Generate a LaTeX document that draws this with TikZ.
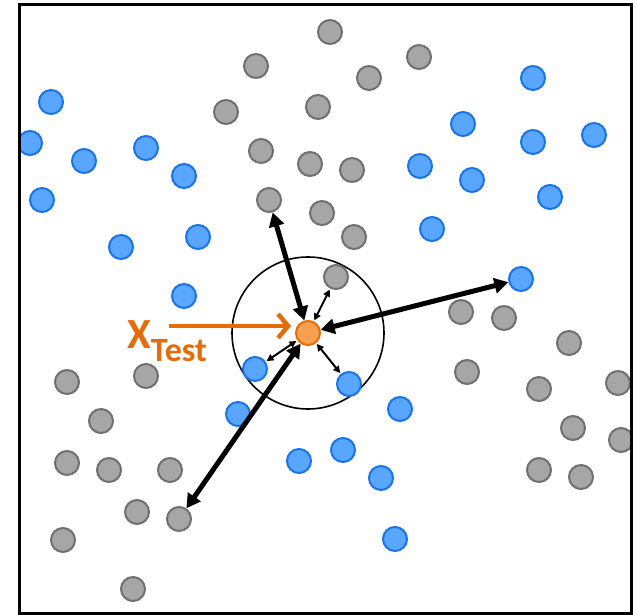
\documentclass[tikz,border=0pt]{standalone}
\usepackage{fontspec}
\newfontfamily\labelfont{Carlito}
\usetikzlibrary{arrows.meta,positioning}

\definecolor{ptblue}{RGB}{88,166,255}
\definecolor{ptblueline}{RGB}{26,115,232}
\definecolor{ptgray}{RGB}{166,166,166}
\definecolor{ptgrayline}{RGB}{112,112,112}
\definecolor{ptorange}{RGB}{247,160,80}
\definecolor{xorange}{RGB}{228,108,10}

\begin{document}
\begin{tikzpicture}[x=1pt, y=-1pt,
  pt/.style={circle, draw, line width=2pt, minimum size=24pt, inner sep=0pt},
  bluept/.style={pt, fill=ptblue, draw=ptblueline},
  graypt/.style={pt, fill=ptgray, draw=ptgrayline},
  testpt/.style={pt, fill=ptorange, draw=xorange},
  far/.style={line width=5pt, >={Triangle[length=14pt,width=15pt]}},
  near/.style={line width=2pt, >={Triangle[length=7pt,width=7pt]}, shorten >=1pt, shorten <=1pt},
  xarrow/.style={draw=xorange, line width=4.5pt, -{Straight Barb[length=10pt,width=24pt]}, shorten >=4pt}]
\useasboundingbox (0,0) rectangle (637,615);

% neighbourhood of the test point
\coordinate (c) at (308,333);
\node[circle, draw, line width=1.6pt, minimum size=152pt, inner sep=0pt] (nbhd) at (c) {};

\begin{scope}
\clip (19,5) rectangle (631,613);
% class A
\foreach \x/\y [count=\i] in {51/102, 30/143, 84/161, 146/148, 184/176, 42/200, 121/247, 198/237,
  184/296, 533/78, 463/124, 533/142, 594/135, 420/166, 472/180, 550/197, 432/229, 238/414,
  299/461, 400/409, 343/450, 381/478, 395/539}
  \node[bluept] (b\i) at (\x,\y) {};
% class B
\foreach \x/\y [count=\i] in {330/32, 419/57, 256/66, 369/78, 226/112, 318/107, 261/151, 310/164,
  352/170, 322/213, 354/237, 461/312, 504/318, 569/343, 467/372, 539/389, 618/383, 573/428,
  621/440, 539/470, 581/477, 67/382, 146/376, 101/421, 67/463, 109/470, 170/470, 137/512,
  63/540, 133/589}
  \node[graypt] (g\i) at (\x,\y) {};
\end{scope}

% points with measured distances
\node[graypt] (gnear) at (336,277) {};
\node[bluept] (bnear1) at (255,369) {};
\node[bluept] (bnear2) at (349,384) {};
\node[graypt] (gfar1) at (269,200) {};
\node[bluept] (bfar) at (521,279) {};
\node[graypt] (gfar2) at (179,519) {};
\node[testpt] (test) at (c) {};

\foreach \n in {gnear, bnear1, bnear2}
  \draw[near, <->] (test) -- (\n);
\foreach \n in {gfar1, bfar, gfar2}
  \draw[far, <->] (test) -- (\n);

% label
\node[anchor=base west, inner sep=0pt, text=xorange, font=\labelfont\bfseries] (xlabel) at (127,348)
  {\fontsize{43}{43}\selectfont X\raisebox{-13pt}{\fontsize{34}{34}\selectfont Test}};
\coordinate (xstart) at (169,326);
\draw[xarrow] (xstart) -- (xstart -| test.west);

\draw[line width=3pt] (19,5) rectangle (631,613);
\end{tikzpicture}
\end{document}
